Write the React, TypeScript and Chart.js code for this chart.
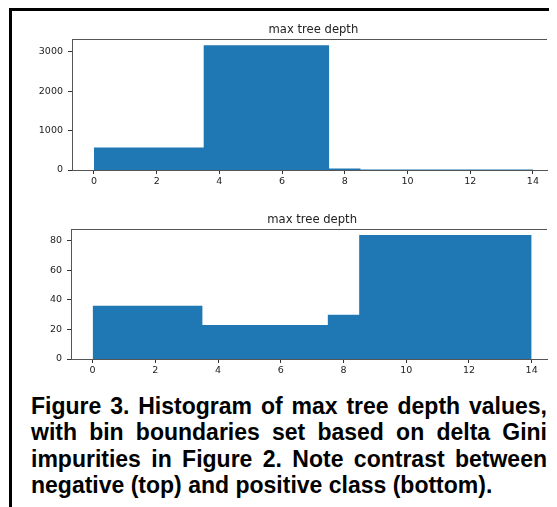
import React, { useEffect, useRef } from "react";
import { Chart, registerables } from "chart.js";

Chart.register(...registerables);

// ---- data ----
const binEdges = [0, 3.5, 7.5, 8.5, 14];
const negativeCounts = [570, 3165, 40, 10];
const positiveCounts = [36, 23, 30, 84];
const xTicks = [0, 2, 4, 6, 8, 10, 12, 14];
const topYTicks = [0, 1000, 2000, 3000];
const bottomYTicks = [0, 20, 40, 60, 80];
const subplotTitle = "max tree depth";
const captionText =
  "Figure 3. Histogram of max tree depth values, with bin boundaries set based on delta Gini impurities in Figure 2. Note contrast between negative (top) and positive class (bottom).";

const BAR_COLOR = "#1f77b4";
const TEXT_COLOR = "#222";
const SPINE_COLOR = "#555";

function stepPoints(edges: number[], counts: number[]) {
  const pts = counts.map((c, i) => ({ x: edges[i], y: c }));
  pts.push({ x: edges[edges.length - 1], y: counts[counts.length - 1] });
  return pts;
}

const mplPlugin = {
  id: "mplDecor",
  afterDraw(chart: any) {
    const { ctx, chartArea } = chart;
    const xs = chart.scales.x;
    ctx.save();
    ctx.strokeStyle = SPINE_COLOR;
    ctx.lineWidth = 1;
    const ty = Math.round(chartArea.top) + 0.5;
    ctx.beginPath();
    ctx.moveTo(chartArea.left, ty);
    ctx.lineTo(chartArea.right, ty);
    ctx.stroke();
    ctx.fillStyle = TEXT_COLOR;
    ctx.font = "11.6px 'DejaVu Sans'";
    ctx.textAlign = "center";
    ctx.textBaseline = "alphabetic";
    ctx.fillText(subplotTitle, xs.getPixelForValue(7), chartArea.top - 6);
    ctx.restore();
  },
};

type HistProps = {
  counts: number[];
  yTicks: number[];
  yMax: number;
  xMin: number;
  xMax: number;
  yAxisWidth: number;
  left: number;
  top: number;
  width: number;
  height: number;
};

function Histogram(p: HistProps) {
  const ref = useRef<HTMLCanvasElement | null>(null);
  useEffect(() => {
    if (!ref.current) return;
    const tickFont = { family: "'DejaVu Sans'", size: 9.5 };
    const plain = (v: any) => String(v);
    const chart = new Chart(ref.current, {
      type: "line",
      data: {
        datasets: [
          {
            data: stepPoints(binEdges, p.counts),
            stepped: "before",
            fill: "origin",
            backgroundColor: BAR_COLOR,
            borderColor: BAR_COLOR,
            borderWidth: 0,
            pointRadius: 0,
          } as any,
        ],
      },
      options: {
        animation: false,
        responsive: false,
        maintainAspectRatio: false,
        events: [],
        layout: { padding: { top: 25, right: 10, left: 0, bottom: 0 } },
        plugins: {
          legend: { display: false },
          tooltip: { enabled: false },
          title: { display: false },
        },
        scales: {
          x: {
            type: "linear",
            min: p.xMin,
            max: p.xMax,
            afterBuildTicks: (s: any) => {
              s.ticks = xTicks.map((v) => ({ value: v }));
            },
            afterFit: (s: any) => {
              s.height = 20;
            },
            ticks: { font: tickFont, color: TEXT_COLOR, padding: 2, maxRotation: 0, autoSkip: false, callback: plain },
            grid: { display: true, drawOnChartArea: false, drawTicks: true, tickLength: 4, tickColor: "#333" },
            border: { display: true, color: SPINE_COLOR, width: 1, z: 1 },
          },
          y: {
            type: "linear",
            min: 0,
            max: p.yMax,
            afterBuildTicks: (s: any) => {
              s.ticks = p.yTicks.map((v) => ({ value: v }));
            },
            afterFit: (s: any) => {
              s.width = p.yAxisWidth;
            },
            ticks: { font: tickFont, color: TEXT_COLOR, padding: 5, callback: plain },
            grid: { display: true, drawOnChartArea: false, drawTicks: true, tickLength: 4, tickColor: "#333" },
            border: { display: true, color: SPINE_COLOR, width: 1, z: 1 },
          },
        },
      } as any,
      plugins: [mplPlugin],
    });
    return () => chart.destroy();
  }, []);
  return (
    <canvas
      ref={ref}
      width={p.width}
      height={p.height}
      style={{ position: "absolute", left: p.left, top: p.top, width: p.width, height: p.height }}
    />
  );
}

export default function App() {
  return (
    <div style={{ position: "relative", width: 549, height: 499, background: "#fff" }}>
      <div style={{ position: "absolute", left: 1, top: 0, width: 548, height: 3, background: "#000" }} />
      <div style={{ position: "absolute", left: 1, top: 0, width: 3, height: 499, background: "#000" }} />
      <Histogram
        counts={negativeCounts}
        yTicks={topYTicks}
        yMax={3323}
        xMin={-0.7}
        xMax={14.45}
        yAxisWidth={52}
        left={12}
        top={6}
        width={537}
        height={176}
      />
      <Histogram
        counts={positiveCounts}
        yTicks={bottomYTicks}
        yMax={88}
        xMin={-0.69}
        xMax={14.49}
        yAxisWidth={51}
        left={12}
        top={196}
        width={537}
        height={175}
      />
      <div
        style={{
          position: "absolute",
          left: 23,
          top: 385,
          width: 516,
          fontFamily: "'Liberation Sans', Arial, sans-serif",
          fontWeight: "bold",
          fontSize: 23,
          lineHeight: "26.4px",
          textAlign: "justify",
          color: "#000",
        }}
      >
        {captionText}
      </div>
    </div>
  );
}
